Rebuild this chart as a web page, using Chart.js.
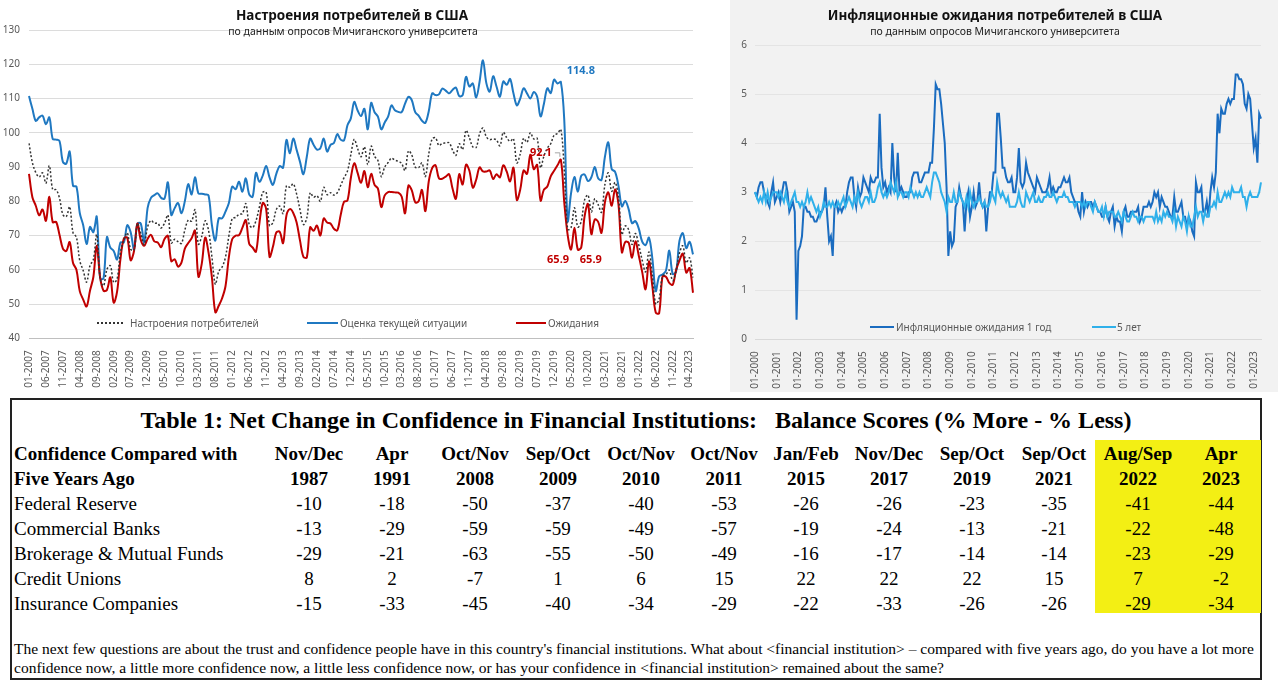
<!DOCTYPE html>
<html>
<head>
<meta charset="utf-8">
<script src="https://cdn.jsdelivr.net/npm/chart.js@4.4.0/dist/chart.umd.min.js"></script>
<style>
  body { margin: 0; width: 1280px; height: 695px; position: relative; background: #fff; overflow: hidden; font-family: 'Noto Sans', sans-serif; }
  .abs { position: absolute; white-space: nowrap; }
  #rightBg { left: 730px; top: 0; width: 548px; height: 392px; background: #f2f2f2; }
  .ttl { font-weight: bold; font-size: 13.5px; color: #111; text-align: center; width: 500px; line-height: 16px; }
  .sub { font-size: 10.5px; color: #222; text-align: center; width: 500px; line-height: 12px; }
  .leg { font-size: 10px; color: #595959; line-height: 12px; }
  .sw { height: 0; }
  .tbl { font-family: 'Liberation Serif', 'Times New Roman', serif; color: #000; line-height: 22px; }
  .hd { font-weight: bold; font-size: 19px; }
  .cell { width: 80px; text-align: center; font-size: 19px; }
</style>
</head>
<body>
<div id="rightBg" class="abs"></div>
<canvas id="left" class="abs" style="left:0;top:0" width="720" height="392"></canvas>
<canvas id="right" class="abs" style="left:730px;top:0" width="548" height="392"></canvas>

<div class="abs ttl" style="left:102px;top:7px">Настроения потребителей в США</div>
<div class="abs sub" style="left:103px;top:25px">по данным опросов Мичиганского университета</div>
<div class="abs ttl" style="left:745px;top:7px">Инфляционные ожидания потребителей в США</div>
<div class="abs sub" style="left:745px;top:25px">по данным опросов Мичиганского университета</div>

<div class="abs sw" style="left:97px;top:322px;width:26px;border-top:2px dotted #333"></div>
<div class="abs leg" style="left:130px;top:317px">Настроения потребителей</div>
<div class="abs sw" style="left:307px;top:322px;width:31px;border-top:2px solid #1f78c1"></div>
<div class="abs leg" style="left:340px;top:317px">Оценка текущей ситуации</div>
<div class="abs sw" style="left:516px;top:322px;width:30px;border-top:2px solid #c00000"></div>
<div class="abs leg" style="left:548px;top:317px">Ожидания</div>

<div class="abs sw" style="left:870px;top:326px;width:24px;border-top:2px solid #1a6cc0"></div>
<div class="abs leg" style="left:896px;top:321px">Инфляционные ожидания 1 год</div>
<div class="abs sw" style="left:1092px;top:326px;width:24px;border-top:2px solid #2fb0ea"></div>
<div class="abs leg" style="left:1117px;top:321px">5 лет</div>

<div id="table"></div>

<script>
// Мичиган: индекс настроений, текущая ситуация, ожидания (01-2007 .. 05-2023)
const sentiment = [
  96.9, 91.3, 88.4, 87.1, 88.3, 85.3, 90.4, 83.4, 83.4, 80.9, 76.1, 75.5,
  78.4, 70.8, 69.5, 62.6, 59.8, 56.4, 61.2, 63.0, 70.3, 57.6, 55.3, 60.1,
  61.2, 56.3, 57.3, 65.1, 68.7, 70.8, 66.0, 65.7, 73.5, 70.6, 67.4, 72.5,
  74.4, 73.6, 73.6, 72.2, 73.6, 76.0, 67.8, 68.9, 68.2, 67.7, 71.6, 74.5,
  74.2, 77.5, 67.5, 69.8, 74.3, 71.5, 63.7, 55.8, 59.5, 60.8, 63.7, 69.9,
  75.0, 75.3, 76.2, 76.4, 79.3, 73.2, 72.3, 74.3, 78.3, 82.6, 82.7, 72.9,
  73.8, 77.6, 78.6, 76.4, 84.5, 84.1, 85.1, 82.1, 77.5, 73.2, 75.1, 82.5,
  81.2, 81.6, 80.0, 84.1, 81.9, 82.5, 81.8, 82.5, 84.6, 86.9, 88.8, 93.6,
  98.1, 95.4, 93.0, 95.9, 90.7, 96.1, 93.1, 91.9, 87.2, 90.0, 91.3, 92.6,
  92.0, 91.7, 91.0, 89.0, 94.7, 93.5, 90.0, 89.8, 91.2, 87.2, 93.8, 98.2,
  98.5, 96.3, 96.9, 97.0, 97.1, 95.0, 93.4, 96.8, 95.1, 100.7, 98.5, 95.9,
  95.7, 99.7, 101.4, 98.8, 98.0, 98.2, 97.9, 96.2, 100.1, 98.6, 97.5, 98.3,
  91.2, 93.8, 98.4, 97.2, 100.0, 98.2, 98.4, 89.8, 93.2, 95.5, 96.8, 99.3,
  99.8, 101.0, 89.1, 71.8, 72.3, 78.1, 72.5, 74.1, 80.4, 81.8, 76.9, 80.7,
  79.0, 76.8, 84.9, 88.3, 82.9, 85.5, 81.2, 70.3, 72.8, 71.7, 67.4, 70.6,
  67.2, 62.8, 59.4, 65.2, 58.4, 50.0, 51.5, 58.2, 58.6, 59.9, 56.8, 59.7,
  64.9, 67.0, 62.0, 63.5, 57.7
];
const current = [
  110.7, 107.0, 103.5, 104.5, 105.0, 102.5, 104.5, 98.2, 98.0, 97.6, 91.5, 91.0,
  94.5, 84.5, 84.3, 76.5, 73.0, 67.5, 72.5, 71.0, 75.5, 57.5, 57.5, 69.5,
  66.5, 65.5, 63.0, 68.0, 68.0, 73.0, 71.0, 66.0, 73.5, 73.5, 68.0, 78.0,
  81.0, 81.8, 82.3, 81.0, 80.8, 85.5, 76.0, 78.0, 79.5, 76.5, 80.0, 85.0,
  82.0, 87.0, 82.3, 82.2, 82.0, 81.7, 73.0, 68.5, 75.0, 75.0, 77.0, 79.5,
  84.3, 83.5, 85.7, 82.8, 86.7, 82.0, 81.3, 88.3, 85.7, 87.5, 90.3, 87.0,
  84.8, 88.0, 90.3, 89.8, 97.9, 94.0, 98.3, 95.0, 91.5, 87.9, 93.0, 98.3,
  96.5, 95.1, 95.5, 98.3, 94.5, 96.5, 97.0, 99.6, 98.0, 97.8, 102.2, 104.2,
  109.0, 106.5, 104.9, 107.0, 101.0, 108.7, 106.0, 104.7, 101.0, 103.0, 104.7, 108.0,
  106.6, 106.1, 106.0, 108.5, 110.5, 109.5, 106.0, 105.0, 103.5, 102.9, 106.3, 111.5,
  111.0, 111.2, 112.9, 112.3, 111.5, 112.5, 113.2, 110.7, 111.0, 116.3, 113.5, 114.4,
  110.3, 114.9, 121.2, 114.5, 112.0, 116.5, 113.5, 110.5, 115.0, 114.0, 115.7, 111.5,
  108.0, 110.0, 113.0, 111.5, 110.0, 111.9, 110.5, 104.8, 108.5, 113.0, 111.6, 115.5,
  114.4, 114.8, 103.7, 74.3, 82.3, 87.1, 82.8, 87.4, 87.8, 85.9, 87.0, 90.0,
  86.7, 86.2, 93.0, 97.2, 89.4, 88.6, 84.5, 78.5, 80.1, 77.7, 73.6, 74.2,
  72.0, 68.2, 67.2, 69.4, 63.3, 53.8, 58.1, 58.6, 59.7, 65.6, 58.8, 59.4,
  68.4, 70.7, 66.3, 68.2, 64.5
];
const expectations = [
  88.0, 81.2, 78.7, 75.9, 77.6, 74.3, 81.3, 73.9, 74.0, 70.2, 66.2, 65.5,
  68.1, 62.0, 60.0, 53.7, 51.3, 49.3, 53.9, 57.9, 67.0, 57.7, 53.9, 54.1,
  57.8, 50.4, 53.6, 63.2, 69.1, 69.4, 62.8, 65.5, 73.5, 68.7, 67.0, 69.0,
  70.2, 68.3, 68.0, 66.6, 69.0, 69.9, 62.5, 63.1, 60.9, 62.1, 66.2, 67.8,
  69.2, 71.4, 58.0, 61.8, 69.4, 65.0, 57.7, 47.6, 49.5, 51.7, 55.2, 63.7,
  69.0, 70.0, 70.1, 72.3, 74.5, 67.6, 66.5, 65.3, 73.5, 79.5, 77.8, 63.8,
  66.7, 70.9, 71.1, 67.8, 75.9, 77.7, 76.6, 73.8, 68.5, 63.8, 63.6, 72.4,
  71.4, 72.9, 70.0, 75.0, 73.8, 73.5, 72.0, 71.5, 76.0, 79.9, 80.2, 86.8,
  91.1, 88.3, 85.4, 88.8, 84.1, 88.0, 84.8, 83.7, 78.3, 81.7, 82.7, 82.7,
  82.6, 82.5, 81.4, 76.5, 84.6, 83.2, 79.7, 80.0, 83.3, 77.1, 85.8, 89.7,
  90.5, 86.7, 86.6, 87.2, 87.9, 83.8, 80.7, 87.9, 84.9, 90.7, 88.9, 84.0,
  86.3, 89.9, 88.7, 88.7, 89.0, 86.5, 87.9, 87.0, 90.5, 88.7, 85.8, 89.8,
  80.4, 83.4, 89.0, 88.0, 93.6, 89.4, 90.6, 80.2, 83.4, 84.3, 87.3, 88.9,
  90.5, 92.1, 79.7, 70.2, 65.9, 72.3, 65.9, 66.5, 75.6, 79.2, 70.4, 74.7,
  74.0, 70.8, 79.7, 82.6, 78.7, 83.5, 79.1, 65.1, 68.1, 67.9, 63.5, 68.3,
  64.1, 59.4, 54.3, 62.5, 55.2, 47.5, 47.3, 58.0, 58.0, 56.2, 55.6, 59.9,
  62.7, 64.7, 59.2, 60.5, 53.3
];

// инфляционные ожидания, % (01-2000 .. 05-2023)
const infl1y = [
  3.0, 2.9, 3.1, 3.2, 3.2, 3.0, 2.9, 2.8, 2.7, 3.0, 3.2, 2.8,
  2.9, 3.0, 2.8, 3.0, 3.2, 3.2, 3.0, 2.6, 2.7, 2.8, 2.6, 0.4,
  1.8, 1.9, 2.1, 2.7, 2.7, 2.6, 2.6, 2.5, 2.5, 2.4, 2.4, 2.5,
  2.6, 2.6, 2.7, 3.1, 2.5, 2.0, 2.1, 1.7, 2.7, 2.8, 2.6, 2.7,
  2.6, 2.7, 2.7, 3.0, 3.2, 3.3, 3.3, 2.9, 2.7, 3.1, 2.9, 3.0,
  3.3, 3.2, 3.1, 3.0, 3.3, 3.2, 3.2, 3.3, 3.3, 4.6, 3.5, 3.1,
  3.2, 3.0, 3.1, 3.0, 4.0, 3.3, 3.0, 3.8, 3.0, 3.1, 3.0, 2.9,
  2.9, 3.0, 3.0, 3.3, 3.4, 3.4, 3.4, 3.2, 3.2, 3.3, 3.4, 3.4,
  3.4, 3.6, 3.6, 4.3, 5.2, 5.1, 5.1, 4.8, 4.4, 4.0, 3.1, 1.7,
  2.2, 1.9, 2.0, 2.7, 2.8, 3.1, 2.9, 2.8, 2.2, 2.8, 3.0, 2.5,
  2.7, 3.0, 2.7, 2.8, 3.2, 2.8, 2.7, 2.8, 2.2, 2.7, 3.0, 3.0,
  3.4, 3.4, 4.6, 4.6, 4.1, 3.5, 3.5, 3.3, 3.2, 3.2, 3.3, 3.0,
  3.0, 3.3, 3.9, 3.2, 3.1, 3.2, 3.6, 3.4, 3.3, 3.2, 3.1, 3.0,
  3.3, 3.2, 3.1, 3.0, 3.0, 3.0, 3.1, 3.3, 3.0, 3.1, 3.0, 3.0,
  3.1, 3.1, 3.2, 3.3, 3.2, 3.2, 3.3, 3.0, 2.9, 2.8, 2.8, 2.6,
  2.5, 3.0, 2.6, 2.8, 2.7, 2.8, 2.8, 2.7, 2.8, 2.7, 2.6, 2.6,
  2.5, 2.5, 2.7, 2.5, 2.4, 2.6, 2.7, 2.3, 2.5, 2.4, 2.4, 2.2,
  2.6, 2.7, 2.5, 2.5, 2.6, 2.6, 2.6, 2.6, 2.7, 2.4, 2.5, 2.7,
  2.7, 2.7, 2.8, 2.7, 2.8, 3.0, 2.9, 3.0, 2.7, 2.9, 2.8, 2.7,
  2.7, 2.6, 2.5, 2.5, 2.9, 2.6, 2.6, 2.7, 2.8, 2.5, 2.5, 2.3,
  2.5, 2.4, 2.2, 2.1, 3.2, 3.0, 3.0, 3.1, 2.6, 2.6, 2.8, 2.5,
  3.0, 3.3, 3.1, 3.4, 4.6, 4.2, 4.7, 4.6, 4.6, 4.8, 4.9, 4.8,
  4.9, 4.9, 5.4, 5.4, 5.3, 5.3, 5.2, 4.8, 4.7, 5.0, 4.9, 4.4,
  3.9, 4.1, 3.6, 4.6, 4.5
];
const infl5y = [
  3.0, 2.9, 2.8, 2.9, 2.8, 3.0, 2.8, 3.0, 2.8, 2.9, 3.0, 3.0,
  3.0, 2.9, 3.0, 2.9, 2.8, 3.0, 2.8, 2.7, 2.8, 2.9, 3.0, 2.8,
  2.8, 2.7, 2.8, 2.7, 2.8, 3.0, 2.8, 2.9, 2.8, 2.7, 2.6, 2.7,
  2.5, 2.6, 2.8, 2.7, 2.7, 2.8, 2.7, 2.8, 2.7, 2.7, 2.8, 2.7,
  2.8, 2.9, 2.7, 2.8, 2.9, 2.8, 2.7, 2.9, 2.8, 3.0, 2.8, 2.7,
  2.8, 2.9, 2.9, 2.8, 3.0, 2.8, 2.8, 2.9, 3.1, 3.2, 3.0, 2.9,
  3.0, 2.9, 3.0, 3.2, 3.1, 3.0, 3.2, 2.9, 3.0, 3.0, 2.9, 3.0,
  3.0, 2.9, 3.1, 3.0, 2.9, 3.0, 2.9, 3.0, 2.9, 2.9, 3.0, 3.1,
  3.0, 2.9, 3.2, 3.4, 3.4, 3.3, 3.2, 3.0, 2.9, 2.8, 2.6, 2.9,
  2.8, 2.8, 3.0, 2.8, 2.8, 3.0, 2.9, 2.8, 2.7, 2.9, 2.7, 3.0,
  2.8, 2.7, 2.8, 2.8, 2.9, 2.8, 2.7, 2.8, 2.7, 2.7, 2.8, 3.0,
  2.9, 2.8, 3.2, 3.0, 2.9, 3.0, 2.9, 2.8, 2.9, 2.7, 2.7, 2.7,
  2.7, 2.8, 3.0, 2.8, 2.7, 2.7, 3.0, 2.9, 2.8, 2.9, 3.0, 2.8,
  2.8, 2.9, 2.8, 2.8, 2.9, 2.9, 3.0, 2.9, 2.9, 3.0, 2.9, 2.8,
  2.9, 2.9, 2.9, 3.0, 2.9, 2.9, 2.8, 2.8, 2.8, 2.7, 2.8, 2.8,
  2.8, 2.7, 2.8, 2.7, 2.8, 2.8, 2.7, 2.6, 2.8, 2.7, 2.6, 2.6,
  2.7, 2.5, 2.7, 2.5, 2.6, 2.6, 2.6, 2.5, 2.5, 2.6, 2.5, 2.4,
  2.6, 2.5, 2.4, 2.4, 2.5, 2.6, 2.5, 2.5, 2.4, 2.5, 2.5, 2.4,
  2.5, 2.5, 2.5, 2.5, 2.5, 2.4, 2.6, 2.4, 2.5, 2.4, 2.6, 2.5,
  2.6, 2.5, 2.5, 2.4, 2.6, 2.3, 2.5, 2.4, 2.3, 2.5, 2.4, 2.2,
  2.5, 2.3, 2.3, 2.5, 2.7, 2.5, 2.6, 2.6, 2.4, 2.6, 2.5, 2.5,
  2.7, 2.7, 2.8, 2.7, 3.0, 2.8, 2.8, 2.9, 3.0, 2.9, 3.0, 2.9,
  3.1, 3.0, 3.0, 3.0, 3.0, 3.1, 2.9, 2.9, 2.7, 2.9, 3.0, 2.9,
  2.9, 2.9, 2.9, 3.0, 3.2
];

// таблица
const tblPeriods = ['Nov/Dec', 'Apr', 'Oct/Nov', 'Sep/Oct', 'Oct/Nov', 'Oct/Nov', 'Jan/Feb', 'Nov/Dec', 'Sep/Oct', 'Sep/Oct', 'Aug/Sep', 'Apr'];
const tblYears = ['1987', '1991', '2008', '2009', '2010', '2011', '2015', '2017', '2019', '2021', '2022', '2023'];
const tblRows = ['Federal Reserve', 'Commercial Banks', 'Brokerage & Mutual Funds', 'Credit Unions', 'Insurance Companies'];
const fedReserve = [-10, -18, -50, -37, -40, -53, -26, -26, -23, -35, -41, -44];
const commBanks = [-13, -29, -59, -59, -49, -57, -19, -24, -13, -21, -22, -48];
const brokerage = [-29, -21, -63, -55, -50, -49, -16, -17, -14, -14, -23, -29];
const creditUnions = [8, 2, -7, 1, 6, 15, 22, 22, 22, 15, 7, -2];
const insurance = [-15, -33, -45, -40, -34, -29, -22, -33, -26, -26, -29, -34];

function monthLabels(year0, count) {
  const out = [];
  for (let i = 0; i < count; i++) {
    const m = (i % 12) + 1;
    out.push(String(m).padStart(2, '0') + '-' + (year0 + Math.floor(i / 12)));
  }
  return out;
}
const monthsL = monthLabels(2007, sentiment.length);
const monthsR = monthLabels(2000, infl1y.length);

Chart.defaults.font.family = "'Noto Sans', sans-serif";

const BLUE = '#1f78c1', RED = '#c00000';

// подписи значений у точек
const notes = [
  { data: current, idx: 157, dx: 20, dy: -11, color: BLUE },
  { data: expectations, idx: 157, dx: -20, dy: -7, color: RED, leader: true },
  { data: expectations, idx: 160, dx: -13, dy: 10, color: RED },
  { data: expectations, idx: 162, dx: 13, dy: 10, color: RED }
];
const notesPlugin = {
  id: 'notes',
  afterDatasetsDraw(chart) {
    const { ctx, scales: { x, y } } = chart;
    ctx.save();
    ctx.font = "bold 11px 'Noto Sans'";
    ctx.textAlign = 'center';
    ctx.textBaseline = 'middle';
    notes.forEach(n => {
      const v = n.data[n.idx];
      const px = x.getPixelForValue(n.idx), py = y.getPixelForValue(v);
      if (n.leader) {
        ctx.strokeStyle = '#a6a6a6';
        ctx.lineWidth = 1;
        ctx.beginPath();
        ctx.moveTo(px - 6, py - 7);
        ctx.lineTo(px - 1, py - 7);
        ctx.lineTo(px - 1, py - 3);
        ctx.stroke();
      }
      ctx.fillStyle = n.color;
      ctx.fillText(v.toFixed(1), px + n.dx, py + n.dy);
    });
    ctx.restore();
  }
};

new Chart(document.getElementById('left').getContext('2d'), {
  type: 'line',
  data: {
    labels: monthsL,
    datasets: [
      { label: 'Настроения потребителей', data: sentiment, borderColor: '#333', borderWidth: 1.5, borderDash: [2, 2], order: 1 },
      { label: 'Оценка текущей ситуации', data: current, borderColor: BLUE, borderWidth: 2, order: 3 },
      { label: 'Ожидания', data: expectations, borderColor: RED, borderWidth: 2, order: 2 }
    ]
  },
  options: {
    responsive: false,
    animation: false,
    layout: { padding: { left: 0, right: 27, top: 30, bottom: 0 } },
    elements: { point: { radius: 0 }, line: { tension: 0.35 } },
    plugins: { legend: { display: false }, tooltip: { enabled: false } },
    scales: {
      x: {
        offset: false,
        grid: { display: false },
        border: { color: '#bfbfbf' },
        ticks: {
          autoSkip: false, minRotation: 90, maxRotation: 90, padding: 4,
          color: '#595959', font: { size: 10 },
          callback: (v, i) => (i % 5 === 0 ? monthsL[i] : '')
        },
        afterFit: s => { s.height = 53.7; }
      },
      y: {
        min: 40, max: 130,
        grid: { color: '#dcdcdc', drawTicks: false },
        border: { display: false },
        ticks: { stepSize: 10, padding: 9, color: '#595959', font: { size: 10 } },
        afterFit: s => { s.width = 29; }
      }
    }
  },
  plugins: [notesPlugin]
});

new Chart(document.getElementById('right').getContext('2d'), {
  type: 'line',
  data: {
    labels: monthsR,
    datasets: [
      { label: 'Инфляционные ожидания 1 год', data: infl1y, borderColor: '#1a6cc0', borderWidth: 2, order: 2 },
      { label: '5 лет', data: infl5y, borderColor: '#2fb0ea', borderWidth: 2, order: 1 }
    ]
  },
  options: {
    responsive: false,
    animation: false,
    layout: { padding: { left: 0, right: 17, top: 45, bottom: 0 } },
    elements: { point: { radius: 0 }, line: { tension: 0 } },
    plugins: { legend: { display: false }, tooltip: { enabled: false } },
    scales: {
      x: {
        offset: false,
        grid: { display: false },
        border: { color: '#d9d9d9' },
        ticks: {
          autoSkip: false, minRotation: 90, maxRotation: 90, padding: 4,
          color: '#595959', font: { size: 10 },
          callback: (v, i) => (i % 12 === 0 ? monthsR[i] : '')
        },
        afterFit: s => { s.height = 52.7; }
      },
      y: {
        min: 0, max: 6,
        grid: { color: '#e4e4e4', drawTicks: false },
        border: { display: false },
        ticks: { stepSize: 1, padding: 8, color: '#595959', font: { size: 10 } },
        afterFit: s => { s.width = 25; }
      }
    }
  }
});

// таблица из массивов
(function buildTable() {
  const cols = [309, 392, 475, 558, 641, 724, 806, 889, 972, 1054, 1138, 1221];
  const rowData = [fedReserve, commBanks, brokerage, creditUnions, insurance];
  let html = '';
  html += '<div class="abs" style="left:10px;top:398px;width:1252px;height:282px;border:2px solid #222;box-sizing:border-box"></div>';
  html += '<div class="abs" style="left:1095px;top:440px;width:166px;height:173px;background:#f3ef14"></div>';
  html += '<div class="abs tbl" style="left:10px;top:405px;width:1252px;text-align:center;font-weight:bold;font-size:24px;line-height:30px">Table 1: Net Change in Confidence in Financial Institutions: &nbsp; Balance Scores (% More - % Less)</div>';
  html += '<div class="abs tbl hd" style="left:14px;top:443px">Confidence Compared with</div>';
  html += '<div class="abs tbl hd" style="left:14px;top:468px">Five Years Ago</div>';
  cols.forEach((c, j) => {
    html += '<div class="abs tbl hd cell" style="left:' + (c - 40) + 'px;top:443px">' + tblPeriods[j] + '</div>';
    html += '<div class="abs tbl hd cell" style="left:' + (c - 40) + 'px;top:468px">' + tblYears[j] + '</div>';
  });
  tblRows.forEach((name, r) => {
    const top = 493 + r * 25;
    html += '<div class="abs tbl" style="left:14px;top:' + top + 'px;font-size:19px">' + name.replace('&', '&amp;') + '</div>';
    cols.forEach((c, j) => {
      html += '<div class="abs tbl cell" style="left:' + (c - 40) + 'px;top:' + top + 'px">' + rowData[r][j] + '</div>';
    });
  });
  html += '<div class="abs tbl" style="left:14px;top:639px;font-size:15.5px;line-height:19px">The next few questions are about the trust and confidence people have in this country\'s financial institutions. What about &lt;financial institution&gt; – compared with five years ago, do you have a lot more<br>confidence now, a little more confidence now, a little less confidence now, or has your confidence in &lt;financial institution&gt; remained about the same?</div>';
  document.getElementById('table').innerHTML = html;
})();
</script>
</body>
</html>
